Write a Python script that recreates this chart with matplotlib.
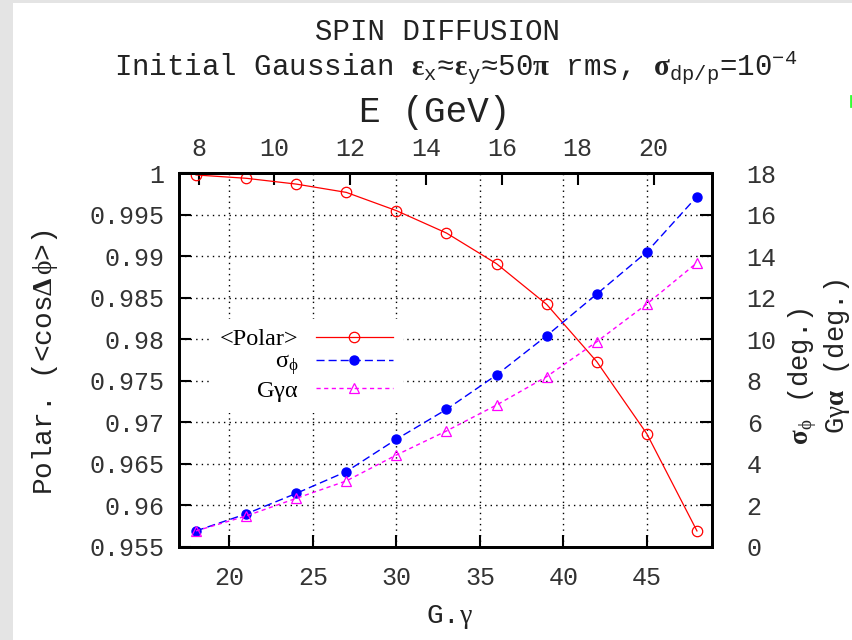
import matplotlib
matplotlib.use("Agg")
import matplotlib.pyplot as plt
from matplotlib.patches import Rectangle
from matplotlib.lines import Line2D

# --- data ---
g_gamma = [18, 21, 24, 27, 30, 33, 36, 39, 42, 45, 48]
polar = [0.9998, 0.9994, 0.9987, 0.9977, 0.9955, 0.9928, 0.9891, 0.9842, 0.9773, 0.9686, 0.9569]
sigma_phi = [0.76, 1.58, 2.57, 3.62, 5.18, 6.62, 8.28, 10.17, 12.18, 14.21, 16.88]
g_gamma_alpha = [0.76, 1.48, 2.33, 3.17, 4.42, 5.58, 6.83, 8.20, 9.88, 11.70, 13.69]

x_ticks = [20, 25, 30, 35, 40, 45]
e_ticks = [8, 10, 12, 14, 16, 18, 20]
left_ticks = [0.955, 0.96, 0.965, 0.97, 0.975, 0.98, 0.985, 0.99, 0.995, 1.0]
left_labels = ["0.955", "0.96", "0.965", "0.97", "0.975", "0.98", "0.985", "0.99", "0.995", "1"]
right_ticks = [0, 2, 4, 6, 8, 10, 12, 14, 16, 18]

GG_PER_GEV = 2.27  # G.gamma per GeV, for the top axis

plt.rcParams["mathtext.fontset"] = "custom"
plt.rcParams["mathtext.rm"] = "Liberation Mono"
plt.rcParams["mathtext.it"] = "Liberation Mono"
plt.rcParams["mathtext.tt"] = "Liberation Mono"
plt.rcParams["mathtext.bf"] = "Liberation Serif:bold"
plt.rcParams["mathtext.sf"] = "Liberation Serif"

MONO = "Liberation Mono"
TICKFONT = "Liberation Mono"
TICKCOL = "#333333"
TXTCOL = "#222222"

fig = plt.figure(figsize=(8.53, 6.4), dpi=100)
fig.patch.set_facecolor("#e4e4e4")
fig.patches.append(Rectangle((13 / 853, 0), 1, 1 - 3 / 640, transform=fig.transFigure,
                             facecolor="white", edgecolor="none", zorder=-10))
fig.lines.append(Line2D([851 / 853, 851 / 853], [1 - 96 / 640, 1 - 106 / 640],
                        transform=fig.transFigure, color="#33ff33", lw=2))

ax = fig.add_axes([179.3 / 853, 1 - 546.7 / 640, (712 - 179.3) / 853, (546.7 - 173.3) / 640])
ax2 = ax.twinx()

ax.plot(g_gamma, polar, color="red", lw=0.9, marker="o", ms=7.5, mfc="none", mec="red",
        mew=0.9, label="<Polar>")
ax2.plot(g_gamma, sigma_phi, color="blue", lw=1, dashes=(5.8, 2.9), marker="o", ms=6.5,
         mfc="blue", mec="blue", label=r"$\mathsf{\sigma}_{\mathsf{\phi}}$")
ax2.plot(g_gamma, g_gamma_alpha, color="magenta", lw=1, dashes=(3.0, 2.5), marker="^", ms=6.5,
         mfc="none", mec="magenta", mew=0.9, label=r"G$\mathsf{\gamma\alpha}$")

ax.set_xlim(17, 48.9)
ax.set_ylim(0.955, 1.0)
ax2.set_ylim(0, 18)

ax.set_xticks(x_ticks)
ax.set_yticks(left_ticks)
ax.set_yticklabels(left_labels)
ax2.set_yticks(right_ticks)

ax.grid(True, color="black", ls=(0, (1, 3)), lw=1)

for a in (ax, ax2):
    for sp in a.spines.values():
        sp.set_linewidth(2)

ax.tick_params(axis="x", which="major", direction="in", length=8.5, width=1.5, pad=14,
               labelsize=18, labelcolor=TICKCOL)
ax.tick_params(axis="y", which="major", direction="in", length=8.5, width=1.5, pad=11,
               labelsize=18, labelcolor=TICKCOL)
ax2.tick_params(axis="y", direction="in", length=8.5, width=1.5, pad=25,
                labelsize=18, labelcolor=TICKCOL)
for lab in ax.get_xticklabels() + ax.get_yticklabels() + ax2.get_yticklabels():
    lab.set_fontfamily(TICKFONT)

sec = ax.secondary_xaxis("top", functions=(lambda g: g / GG_PER_GEV, lambda e: e * GG_PER_GEV))
sec.set_xticks(e_ticks)
sec.tick_params(direction="in", length=8.5, width=1.5, pad=9, labelsize=18, labelcolor=TICKCOL)
sec.spines["top"].set_linewidth(2)
for lab in sec.get_xticklabels():
    lab.set_fontfamily(TICKFONT)

# titles and axis labels
fig.text(438 / 853, 1 - 32 / 640, "SPIN DIFFUSION", ha="center", va="center",
         family=MONO, fontsize=21, color=TXTCOL)
fig.text(456 / 853, 1 - 67 / 640,
         r"Initial Gaussian $\mathbf{\varepsilon}_{\mathrm{x}}$≈$\mathbf{\varepsilon}_{\mathrm{y}}$"
         r"≈50$\mathbf{\pi}$ rms, $\mathbf{\sigma}_{\mathrm{dp/p}}$=10$^{\mathrm{-4}}$",
         ha="center", va="center", family=MONO, fontsize=21, color=TXTCOL)
fig.text(435 / 853, 1 - 113 / 640, "E (GeV)", ha="center", va="center",
         family=MONO, fontsize=26, color=TXTCOL)
fig.text(450 / 853, 1 - 617 / 640, r"G.$\mathsf{\gamma}$", ha="center", va="center",
         family=MONO, fontsize=20, color=TXTCOL)
fig.text(45 / 853, 1 - 362 / 640, r"Polar. (<cos$\mathbf{\Delta}\,\mathsf{\phi}$>)",
         rotation=90, ha="center", va="center", family=MONO, fontsize=20, color=TXTCOL)
fig.text(803 / 853, 1 - 376 / 640, r"$\mathbf{\sigma}_{\mathsf{\phi}}$ (deg.)",
         rotation=90, ha="center", va="center", family=MONO, fontsize=19.5, color=TXTCOL)
fig.text(837 / 853, 1 - 357 / 640, r"G$\mathsf{\gamma}\mathbf{\alpha}$ (deg.)",
         rotation=90, ha="center", va="center", family=MONO, fontsize=19.5, color=TXTCOL)

# legend: labels on the left, samples on the right
h1, l1 = ax.get_legend_handles_labels()
h2, l2 = ax2.get_legend_handles_labels()
leg = ax2.legend(h1 + h2, l1 + l2, loc="center right", bbox_to_anchor=(0.42, 0.484),
                 markerfirst=False, frameon=True, facecolor="white", edgecolor="none",
                 framealpha=1, fancybox=False, handlelength=3.2, handletextpad=0.7,
                 labelspacing=0.05, borderpad=0.4, borderaxespad=0,
                 prop={"family": "Liberation Serif", "size": 17.5})

fig.savefig("out.png", dpi=100)
